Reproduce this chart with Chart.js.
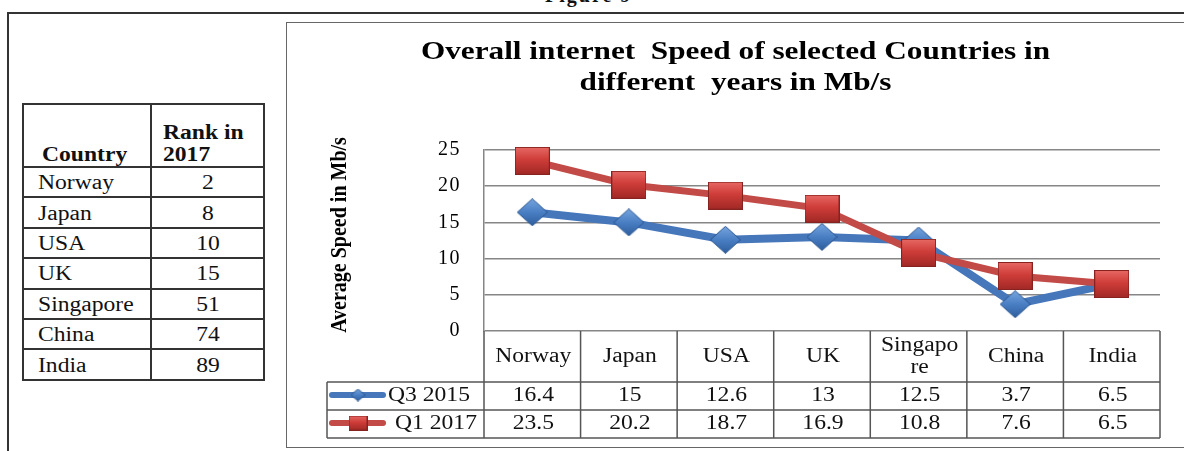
<!DOCTYPE html>
<html>
<head>
<meta charset="utf-8">
<script src="https://cdn.jsdelivr.net/npm/chart.js@4"></script>
<style>
  body { margin: 0; width: 1184px; height: 451px; overflow: hidden; background: #fff; position: relative; font-family: "Liberation Serif", "Times New Roman", serif; color: #111; }
  #figTitle { position: absolute; left: 545px; top: -15px; font-size: 20px; line-height: 20px; font-weight: bold; letter-spacing: 2px; }
  #frame { position: absolute; left: 7px; top: 12px; width: 1200px; height: 460px; border-top: 2px solid #333; border-left: 2px solid #333; }
  #box { position: absolute; left: 286px; top: 22px; width: 920px; height: 424px; border: 1.5px solid #666; }
  #wrap { position: absolute; left: 287px; top: 23px; width: 897px; height: 425px; }
  table.rank { position: absolute; left: 22px; top: 103px; width: 241px; table-layout: fixed; border-collapse: collapse; font-size: 20px; }
  table.rank td { border: 2px solid #333; padding: 0; height: 28.4px; line-height: 22px; white-space: nowrap; overflow: visible; }
  table.rank td.c1 { padding-left: 14px; }
  table.rank td.c2 { text-align: center; }
  table.rank tr.head td { height: 60px; vertical-align: bottom; font-weight: bold; padding-bottom: 1px; }
  table.rank tr.head td.c1 { padding-left: 18px; }
  table.rank tr.head td.c2 { text-align: left; padding-left: 11px; }
  .s { display: inline-block; transform: scaleX(1.18); transform-origin: 0 50%; }
  td.c2 .s { transform-origin: 50% 50%; }
  tr.head td.c2 .s { transform-origin: 0 50%; }
</style>
</head>
<body>
<div id="figTitle">Figure 9</div>
<div id="frame"></div>
<table class="rank" id="rankTable"><colgroup><col style="width:128px"><col style="width:113px"></colgroup><tbody></tbody></table>
<div id="box"></div>
<div id="wrap"><canvas id="chart"></canvas></div>
<script>
const categories = ["Norway", "Japan", "USA", "UK", "Singapore", "China", "India"];
const seriesNames = ["Q3 2015", "Q1 2017"];
const q3_2015 = [16.4, 15, 12.6, 13, 12.5, 3.7, 6.5];
const q1_2017 = [23.5, 20.2, 18.7, 16.9, 10.8, 7.6, 6.5];
const yTicks = [0, 5, 10, 15, 20, 25];

const rankCountries = ["Norway", "Japan", "USA", "UK", "Singapore", "China", "India"];
const rank2017 = [2, 8, 10, 15, 51, 74, 89];

const chartTitle = ["Overall internet  Speed of selected Countries in", "different  years in Mb/s"];
const yTitle = "Average Speed in Mb/s";
const serif = "'Liberation Serif', 'Times New Roman', serif";
const SX = 1.18; // the source picture is a bit wider than tall

// left rank table
const tbody = document.querySelector("#rankTable tbody");
let html = '<tr class="head"><td class="c1"><span class="s">Country</span></td><td class="c2"><span class="s">Rank in<br>2017</span></td></tr>';
rankCountries.forEach(function (c, i) {
  html += '<tr><td class="c1"><span class="s">' + c + '</span></td><td class="c2"><span class="s">' + rank2017[i] + '</span></td></tr>';
});
tbody.innerHTML = html;

const blue = "#4677bb";
const red = "#c24a47";

function makeSquare(w, h) {
  const c = document.createElement("canvas");
  c.width = w; c.height = h;
  const g = c.getContext("2d");
  const grd = g.createLinearGradient(0, 0, 0, h);
  grd.addColorStop(0, "#e86a66");
  grd.addColorStop(0.45, "#cf3d39");
  grd.addColorStop(1, "#a02825");
  g.fillStyle = grd;
  g.fillRect(0, 0, w, h);
  g.strokeStyle = "#86221f";
  g.lineWidth = 1;
  g.strokeRect(0.5, 0.5, w - 1, h - 1);
  return c;
}

function makeDiamond(w, h) {
  const c = document.createElement("canvas");
  c.width = w; c.height = h;
  const g = c.getContext("2d");
  const grd = g.createLinearGradient(0, 0, 0, h);
  grd.addColorStop(0, "#78a6e0");
  grd.addColorStop(0.5, "#4a7fc4");
  grd.addColorStop(1, "#2d5d9c");
  g.beginPath();
  g.moveTo(w / 2, 0.5);
  g.lineTo(w - 0.5, h / 2);
  g.lineTo(w / 2, h - 0.5);
  g.lineTo(0.5, h / 2);
  g.closePath();
  g.fillStyle = grd;
  g.fill();
  g.strokeStyle = "#2a5690";
  g.lineWidth = 1;
  g.stroke();
  return c;
}

const diamondImg = makeDiamond(31, 28);
const squareImg = makeSquare(35, 28);
const diamondSmall = makeDiamond(15, 13);
const squareSmall = makeSquare(19, 15);

const lineColor = "#555";

function wideText(ctx, text, x, y, sx, align) {
  ctx.save();
  ctx.translate(x, y);
  ctx.scale(sx, 1);
  ctx.textAlign = align;
  ctx.fillText(text, 0, 0);
  ctx.restore();
}

// title, y title and data table under the plot
const tablePlugin = {
  id: "dataTable",
  beforeDraw(chart) {
    chart.ctx.letterSpacing = "1.5px";
  },
  afterDraw(chart) {
    const ctx = chart.ctx;
    const area = chart.chartArea;
    const xs = chart.scales.x;
    const n = categories.length;
    const colW = (area.right - area.left) / n;
    const catTop = area.bottom, catBot = catTop + 51;
    const rowH = 28;
    const tblBot = catBot + rowH * 2;
    const legLeft = 40;

    ctx.save();
    ctx.letterSpacing = "0px";
    ctx.fillStyle = "#000";
    ctx.textBaseline = "middle";

    // title
    ctx.font = "bold 25px " + serif;
    chartTitle.forEach(function (t, i) {
      wideText(ctx, t, chart.width / 2, 30 + i * 31, 1.25, "center");
    });

    // y title
    ctx.save();
    ctx.translate(53, 212);
    ctx.rotate(-Math.PI / 2);
    ctx.scale(1, 1.15);
    ctx.font = "bold 20px " + serif;
    ctx.textAlign = "center";
    ctx.fillText(yTitle, 0, 0);
    ctx.restore();

    // grid of table
    ctx.strokeStyle = lineColor;
    ctx.lineWidth = 1.5;
    ctx.beginPath();
    for (let i = 0; i <= n; i++) {
      const x = area.left + i * colW;
      ctx.moveTo(x, catTop);
      ctx.lineTo(x, tblBot);
    }
    ctx.moveTo(legLeft, catBot);
    ctx.lineTo(legLeft, tblBot);
    [catBot, catBot + rowH, tblBot].forEach(function (y) {
      ctx.moveTo(legLeft, y);
      ctx.lineTo(area.right, y);
    });
    ctx.stroke();

    // category labels
    ctx.font = "20px " + serif;
    ctx.fillStyle = "#111";
    categories.forEach(function (c, i) {
      const cx = xs.getPixelForValue(i);
      const lines = [];
      let cur = "";
      for (const ch of c) {
        if (ctx.measureText(cur + ch).width * SX > colW - 14 && cur) { lines.push(cur); cur = ch; }
        else cur += ch;
      }
      lines.push(cur);
      const cy = (catTop + catBot) / 2;
      lines.forEach(function (l, k) {
        wideText(ctx, l, cx + 1, cy + (k - (lines.length - 1) / 2) * 22, SX, "center");
      });
    });

    // values + legend keys
    const series = [q3_2015, q1_2017];
    const keys = [diamondSmall, squareSmall];
    const colors = [blue, red];
    series.forEach(function (vals, s) {
      const cy = catBot + rowH * s + rowH / 2;
      vals.forEach(function (v, i) {
        wideText(ctx, String(v), xs.getPixelForValue(i) + 1, cy, SX, "center");
      });
      ctx.strokeStyle = colors[s];
      ctx.lineWidth = 6;
      ctx.lineCap = "round";
      ctx.beginPath();
      ctx.moveTo(legLeft + 5, cy - 1);
      ctx.lineTo(legLeft + 56, cy - 1);
      ctx.stroke();
      const k = keys[s];
      ctx.drawImage(k, legLeft + 31 - k.width / 2, cy - 1 - k.height / 2);
    });
    wideText(ctx, seriesNames[0], legLeft + 61, catBot + rowH / 2, SX, "left");
    wideText(ctx, seriesNames[1], legLeft + 68, catBot + rowH * 1.5, SX, "left");
    ctx.restore();
  }
};

new Chart(document.getElementById("chart"), {
  type: "line",
  data: {
    labels: categories,
    datasets: [
      {
        label: seriesNames[0],
        data: q3_2015,
        borderColor: blue,
        backgroundColor: blue,
        borderWidth: 8,
        pointStyle: diamondImg,
        pointRadius: 15,
        order: 2,
        clip: false
      },
      {
        label: seriesNames[1],
        data: q1_2017,
        borderColor: red,
        backgroundColor: red,
        borderWidth: 7,
        pointStyle: squareImg,
        pointRadius: 15,
        order: 1,
        clip: false
      }
    ]
  },
  options: {
    responsive: true,
    maintainAspectRatio: false,
    animation: false,
    events: [],
    layout: { padding: { left: 40, right: 24, top: 127, bottom: 117 } },
    plugins: {
      legend: { display: false },
      tooltip: { enabled: false },
      title: { display: false }
    },
    scales: {
      x: { display: false, offset: true },
      y: {
        min: 0,
        max: 25,
        afterFit(scale) { scale.width = 157; },
        afterBuildTicks(scale) { scale.ticks = yTicks.map(function (v) { return { value: v }; }); },
        ticks: { padding: 23, color: "#000", font: { family: serif, size: 20 } },
        grid: { color: "#868686", lineWidth: 1.5, drawTicks: false },
        border: { display: true, color: "#868686", width: 1.5 }
      }
    }
  },
  plugins: [tablePlugin]
});
</script>
</body>
</html>
